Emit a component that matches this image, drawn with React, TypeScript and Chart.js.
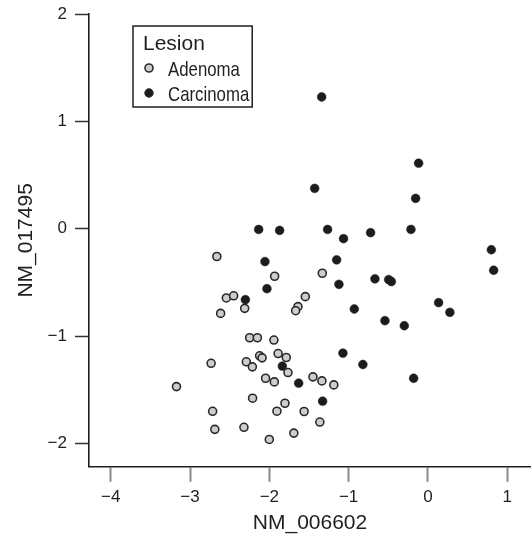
import React, { useEffect, useRef } from "react";
import { Chart, registerables } from "chart.js";

Chart.register(...registerables);

// ---- data ----
const seriesNames = ["Adenoma", "Carcinoma"];
const legendTitle = "Lesion";
const xTitle = "NM_006602";
const yTitle = "NM_017495";
const xTicks = [-4, -3, -2, -1, 0, 1];
const yTicks = [-2, -1, 0, 1, 2];
const xRange = [-4.274, 1.3];
const yRange = [-2.218, 2];

const adenomaX = [
  -2.662, -1.933, -1.332, -2.542, -2.45, -2.311, -2.614, -1.546, -1.639, -1.668,
  -2.248, -2.151, -1.942, -1.889, -1.786, -2.122, -2.091, -2.29, -2.214, -2.734,
  -1.765, -2.047, -1.937, -1.45, -1.337, -1.187, -3.171, -2.211, -1.803, -1.904,
  -1.561, -2.715, -1.363, -2.687, -2.32, -1.691, -2.0,
];
const adenomaY = [
  -0.259, -0.443, -0.415, -0.645, -0.625, -0.742, -0.789, -0.633, -0.726, -0.764,
  -1.016, -1.016, -1.037, -1.163, -1.2, -1.184, -1.203, -1.24, -1.287, -1.254,
  -1.34, -1.393, -1.427, -1.38, -1.418, -1.455, -1.471, -1.579, -1.626, -1.7,
  -1.703, -1.701, -1.801, -1.869, -1.85, -1.904, -1.963,
];
const carcinomaX = [
  -1.34, -0.117, -1.428, -0.155, -2.134, -1.87, -1.265, -0.723, -1.064, -0.214,
  0.8, 0.829, -1.151, -1.122, -0.668, -0.495, -0.461, -0.928, -0.542, -0.298,
  0.135, 0.277, -1.072, -0.82, -0.18, -1.328, -1.63, -1.836, -2.055, -2.03, -2.302,
];
const carcinomaY = [
  1.227, 0.61, 0.376, 0.283, -0.007, -0.016, -0.007, -0.037, -0.093, -0.007,
  -0.196, -0.387, -0.29, -0.518, -0.467, -0.474, -0.492, -0.748, -0.857, -0.904,
  -0.689, -0.779, -1.159, -1.265, -1.393, -1.607, -1.439, -1.28, -0.306, -0.559, -0.661,
];

const FONT = "'Liberation Sans', Arial, Helvetica, sans-serif";
const INK = "#1f1f1f";

const fmt = (v: number) => (v < 0 ? "\u2212" + Math.abs(v) : String(v));

const ITEM_SQUEEZE = 0.8;

const boxLegend = {
  id: "boxLegend",
  afterDatasetsDraw(chart: any) {
    const ctx = chart.ctx as CanvasRenderingContext2D;
    const area = chart.chartArea;
    const left = area.left + 44;
    const top = area.top + 12;
    ctx.save();
    ctx.font = `21px ${FONT}`;
    ctx.textBaseline = "alphabetic";
    ctx.textAlign = "left";
    const textX = left + 35;
    let maxRight = left + 10 + ctx.measureText(legendTitle).width;
    seriesNames.forEach((n) => {
      maxRight = Math.max(maxRight, textX + ctx.measureText(n).width * ITEM_SQUEEZE);
    });
    const width = maxRight + 3 - left;
    const height = 81;
    ctx.lineWidth = 1.5;
    ctx.strokeStyle = INK;
    ctx.strokeRect(left, top, width, height);
    ctx.fillStyle = INK;
    ctx.fillText(legendTitle, left + 10, top + 24);
    chart.data.datasets.forEach((ds: any, i: number) => {
      const cy = top + 42 + i * 25;
      ctx.beginPath();
      ctx.arc(left + 16, cy, ds.pointRadius, 0, Math.PI * 2);
      ctx.fillStyle = ds.pointBackgroundColor;
      ctx.fill();
      ctx.lineWidth = ds.pointBorderWidth;
      ctx.strokeStyle = ds.pointBorderColor;
      ctx.stroke();
      ctx.fillStyle = INK;
      ctx.save();
      ctx.translate(textX, cy + 8);
      ctx.scale(ITEM_SQUEEZE, 1);
      ctx.fillText(ds.label, 0, 0);
      ctx.restore();
    });
    ctx.restore();
  },
};

export default function App() {
  const ref = useRef<HTMLCanvasElement | null>(null);

  useEffect(() => {
    if (!ref.current) return;
    const chart = new Chart(ref.current, {
      type: "scatter",
      data: {
        datasets: [
          {
            label: seriesNames[0],
            data: adenomaX.map((x, i) => ({ x, y: adenomaY[i] })),
            pointRadius: 4,
            pointBackgroundColor: "#cdcdcd",
            pointBorderColor: "#2a2a2a",
            pointBorderWidth: 1.6,
          },
          {
            label: seriesNames[1],
            data: carcinomaX.map((x, i) => ({ x, y: carcinomaY[i] })),
            pointRadius: 4.4,
            pointBackgroundColor: "#1c1c1c",
            pointBorderColor: "#1c1c1c",
            pointBorderWidth: 0.5,
          },
        ],
      },
      options: {
        animation: false,
        responsive: false,
        devicePixelRatio: 1,
        layout: { autoPadding: false, padding: { top: 14, left: 0, right: 0, bottom: 0 } },
        plugins: {
          legend: { display: false },
          tooltip: { enabled: false },
        },
        scales: {
          x: {
            type: "linear",
            min: xRange[0],
            max: xRange[1],
            afterBuildTicks: (s: any) => {
              s.ticks = xTicks.map((v) => ({ value: v }));
            },
            afterFit: (s: any) => {
              s.height = 69.2;
              s.paddingLeft = 0;
              s.paddingRight = 0;
            },
            grid: {
              drawOnChartArea: false,
              drawTicks: true,
              tickLength: 15,
              tickColor: "#8a8a8a",
              tickWidth: 2,
            },
            border: { display: true, color: INK, width: 1.6 },
            ticks: {
              padding: 5,
              color: INK,
              font: { family: FONT, size: 17 },
              callback: (v: any) => fmt(Number(v)),
            },
            title: {
              display: true,
              text: xTitle,
              color: INK,
              font: { family: FONT, size: 21 },
              padding: { top: 0, bottom: 0 },
            },
          },
          y: {
            type: "linear",
            min: yRange[0],
            max: yRange[1],
            afterBuildTicks: (s: any) => {
              s.ticks = yTicks.map((v) => ({ value: v }));
            },
            afterFit: (s: any) => {
              s.width = 89;
              s.paddingTop = 0;
              s.paddingBottom = 0;
            },
            grid: {
              drawOnChartArea: false,
              drawTicks: true,
              tickLength: 14,
              tickColor: "#333333",
              tickWidth: 1.5,
            },
            border: { display: true, color: INK, width: 1.6 },
            ticks: {
              padding: 8,
              color: INK,
              font: { family: FONT, size: 17 },
              callback: (v: any) => fmt(Number(v)),
            },
            title: {
              display: true,
              text: yTitle,
              color: INK,
              font: { family: FONT, size: 21 },
              padding: { top: 14, bottom: 0 },
            },
          },
        },
      },
      plugins: [boxLegend],
    } as any);
    return () => chart.destroy();
  }, []);

  return (
    <div style={{ position: "fixed", left: 0, top: 0, width: 531, height: 536, background: "#fff" }}>
      <canvas ref={ref} width={531} height={536} style={{ width: 531, height: 536, display: "block" }} />
    </div>
  );
}
